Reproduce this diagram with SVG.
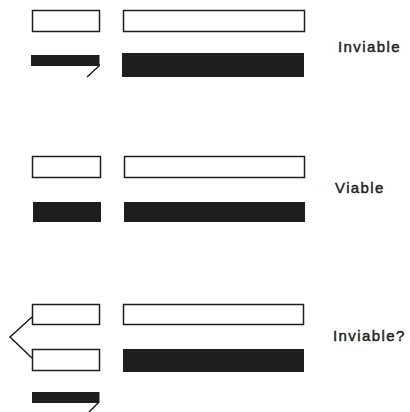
<svg xmlns="http://www.w3.org/2000/svg" width="410" height="412" viewBox="0 0 410 412">
<style>
.w{fill:#fff;stroke:#1e1e1e;stroke-width:1.5}
.b{fill:#1e1e1e;stroke:none}
.ln{fill:none;stroke:#1e1e1e;stroke-width:1.5}
.t{font-family:"Liberation Sans",Arial,sans-serif;font-size:15px;fill:#222;stroke:#222;stroke-width:0.45;letter-spacing:1.4px}
</style>
<rect width="410" height="412" fill="#fff"/>
<g id="row1">
<rect class="w" x="32.5" y="10.5" width="67" height="21"/>
<rect class="w" x="123.5" y="10.5" width="181" height="21"/>
<rect class="b" x="31" y="55" width="68.5" height="11"/>
<rect class="b" x="122" y="53" width="182" height="24"/>
<text class="t" x="338" y="52">Inviable</text>
</g>
<g id="row2">
<rect class="w" x="32.5" y="156.5" width="68" height="21"/>
<rect class="w" x="124.5" y="156.5" width="180" height="21"/>
<rect class="b" x="33" y="202" width="68" height="20"/>
<rect class="b" x="124" y="202" width="181" height="20"/>
<text class="t" x="335" y="193">Viable</text>
</g>
<g id="row3">
<rect class="w" x="32.5" y="304.5" width="67" height="20"/>
<rect class="w" x="32.5" y="349.5" width="67" height="21"/>
<rect class="w" x="123.5" y="304.5" width="180" height="20"/>
<rect class="b" x="123" y="349" width="181" height="23"/>
<rect class="b" x="32" y="392" width="67.5" height="11"/>
<text class="t" x="333" y="341">Inviable?</text>
</g>
<g id="connectors">
<path class="ln" d="M99,64 L99,66 L87,77"/>
<path class="ln" d="M32,317 L10,337 L32,358"/>
<path class="ln" d="M99,402 L89,412"/>
</g>
</svg>
